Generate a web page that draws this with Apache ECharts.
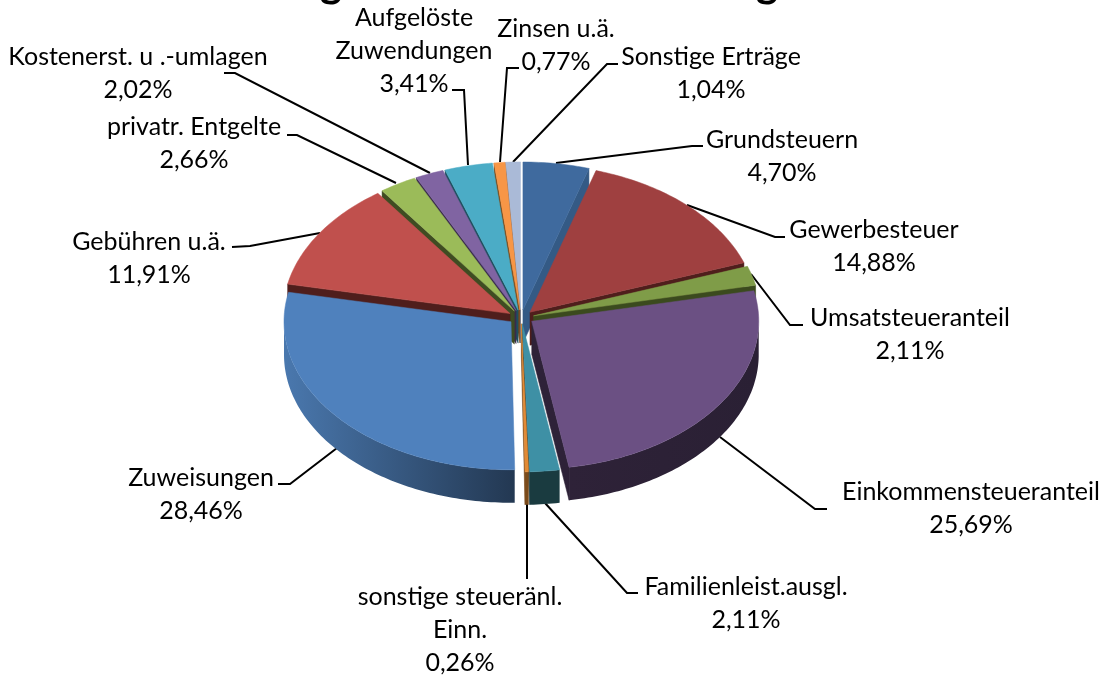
<!DOCTYPE html>
<html>
<head>
<meta charset="utf-8">
<style>html,body{margin:0;padding:0;background:#fff}#c{width:1112px;height:675px}</style>
<script src="https://cdn.jsdelivr.net/npm/echarts@6/dist/echarts.min.js"></script>
</head>
<body>
<div id="c"></div>
<script>
// ---- data ----
const categories = ["Grundsteuern","Gewerbesteuer","Umsatsteueranteil","Einkommensteueranteil","Familienleist.ausgl.","sonstige steueränl.\nEinn.","Zuweisungen","Gebühren u.ä.","privatr. Entgelte","Kostenerst. u .-umlagen","Aufgelöste\nZuwendungen","Zinsen u.ä.","Sonstige Erträge"];
const values = [4.70,14.88,2.11,25.69,2.11,0.26,28.46,11.91,2.66,2.02,3.41,0.77,1.04];
// ---- styling ----
const topColors = ["#3f6a9e","#9f4040","#7f9c48","#6b5083","#3e90a5","#e28a35","#4f81bd","#c0504d","#9bbb59","#8064a2","#4bacc6","#f79646","#aabad7"];
const edgeColors = ["#345a85","#4f1e1c","#3b4a1e","#2e2238","#1a3b40","#7a4a1a","#2d4a70","#4f1e1c","#3f4c22","#3a2c4c","#1f5060","#7a4a1a","#55607a"];
const wallFrom = ["#345a85","#4f1e1c","#3b4a1e","#2e2238","#1a3b40","#7a4a1a","#4a78ae","#4f1e1c","#3f4c22","#3a2c4c","#1f5060","#7a4a1a","#55607a"];
const wallTo = ["#345a85","#4f1e1c","#3b4a1e","#2a2034","#1a3b40","#7a4a1a","#233852","#4f1e1c","#3f4c22","#3a2c4c","#1f5060","#7a4a1a","#55607a"];
// ---- layout ----
const pie = {cx:521, cy:318, rx:227, ry:148, depth:33, pull:13, pullUp:0.62, pullDown:0.45};
const labelAnchors = [[782,123],[874,213],[910,301],[971,475],[746,570],[460,580],[201,461],[149,225],[194,110],[138,40],[414,1],[556,12],[711,40]];
const leaders = [
 [[556,163],[692,146],[703,146]],
 [[687,205],[775,237],[785,237]],
 [[751,274],[790,325],[803,325]],
 [[720,437],[815,509],[827,509]],
 [[545,503],[627,593],[638,593]],
 [[527,503],[527,579]],
 [[337,448],[290,484],[278,484]],
 [[320,233],[250,246],[232,247]],
 [[396,183],[297,135],[287,135]],
 [[430,173],[235,73],[224,73]],
 [[468,165],[464,90],[452,90]],
 [[500,162],[507,68],[519,68]],
 [[513,162],[607,64],[618,64]]
];
const fontFamily = "Lato, Carlito, sans-serif";
const fontSize = 25;

const total = values.reduce((a,b)=>a+b,0);
const rad = d=>d*Math.PI/180;
let acc = 0;
const slices = values.map((v,i)=>{
  const a0 = acc/total*360; acc += v; const a1 = acc/total*360;
  return {i, a0, a1, mid:(a0+a1)/2};
});
// painter's order: back slices first
const order = slices.slice().sort((p,q)=>Math.cos(rad(q.mid))-Math.cos(rad(p.mid))).map(s=>s.i);

function grad(a,b){return {type:'linear',x:0,y:0,x2:1,y2:0,colorStops:[{offset:0,color:a},{offset:1,color:b}]};}

function renderSlice(params, api){
  const i = api.value(0);
  const s = slices[i];
  const sn = Math.sin(rad(s.mid)), cs = Math.cos(rad(s.mid));
  const ax = pie.cx + pie.pull*sn;
  const ay = pie.cy - pie.pull*cs*(cs>0?pie.pullUp:pie.pullDown);
  const pt = (a,d)=>[ax+pie.rx*Math.sin(rad(a)), ay-pie.ry*Math.cos(rad(a))+(d||0)];
  const arc=[];
  const n=Math.max(2,Math.ceil((s.a1-s.a0)));
  for(let k=0;k<=n;k++) arc.push(s.a0+(s.a1-s.a0)*k/n);
  const children=[];
  const d=pie.depth;
  const radial=(a)=>({type:'polygon',shape:{points:[[ax,ay],pt(a),pt(a,d),[ax,ay+d]]},style:{fill:edgeColors[i],stroke:edgeColors[i],lineWidth:0.5}});
  if(s.a0>180) children.push(radial(s.a0));
  if(s.a1<180) children.push(radial(s.a1));
  const wallA=arc.filter(a=>a>=90&&a<=270);
  if(wallA.length>1){
    const pts=wallA.map(a=>pt(a)).concat(wallA.slice().reverse().map(a=>pt(a,d)));
    children.push({type:'polygon',shape:{points:pts},style:{fill:grad(wallFrom[i],wallTo[i])}});
  }
  const topPts=[[ax,ay]].concat(arc.map(a=>pt(a)));
  children.push({type:'polygon',shape:{points:topPts},style:{fill:topColors[i],stroke:topColors[i],lineWidth:0.5}});
  return {type:'group',children};
}

function renderLabel(params, api){
  const i = api.value(0);
  const pct = values[i].toFixed(2).replace('.',',')+'%';
  return {type:'group',children:[
    {type:'polyline',shape:{points:leaders[i]},style:{fill:'none',stroke:'#000',lineWidth:2}},
    {type:'text',x:labelAnchors[i][0],y:labelAnchors[i][1],style:{text:categories[i]+'\n'+pct,fill:'#000',font:fontSize+'px '+fontFamily,align:'center',verticalAlign:'top',lineHeight:33}}
  ]};
}

const chart = echarts.init(document.getElementById('c'),null,{renderer:'canvas'});
chart.setOption({
  animation:false,
  backgroundColor:'#fff',
  graphic:[
    {type:'text',left:320,top:-38,style:{text:'g',fill:'#000',font:'bold 42px '+fontFamily}},
    {type:'text',left:756,top:-38,style:{text:'g',fill:'#000',font:'bold 42px '+fontFamily}}
  ],
  series:[
    {type:'custom',coordinateSystem:'none',silent:true,clip:false,renderItem:renderSlice,data:order.map(i=>({name:categories[i],value:[i,values[i]]})),z:2},
    {type:'custom',coordinateSystem:'none',silent:true,clip:false,renderItem:renderLabel,data:categories.map((c,i)=>({name:c,value:[i,values[i]]})),z:1}
  ]
});
</script>
</body>
</html>
